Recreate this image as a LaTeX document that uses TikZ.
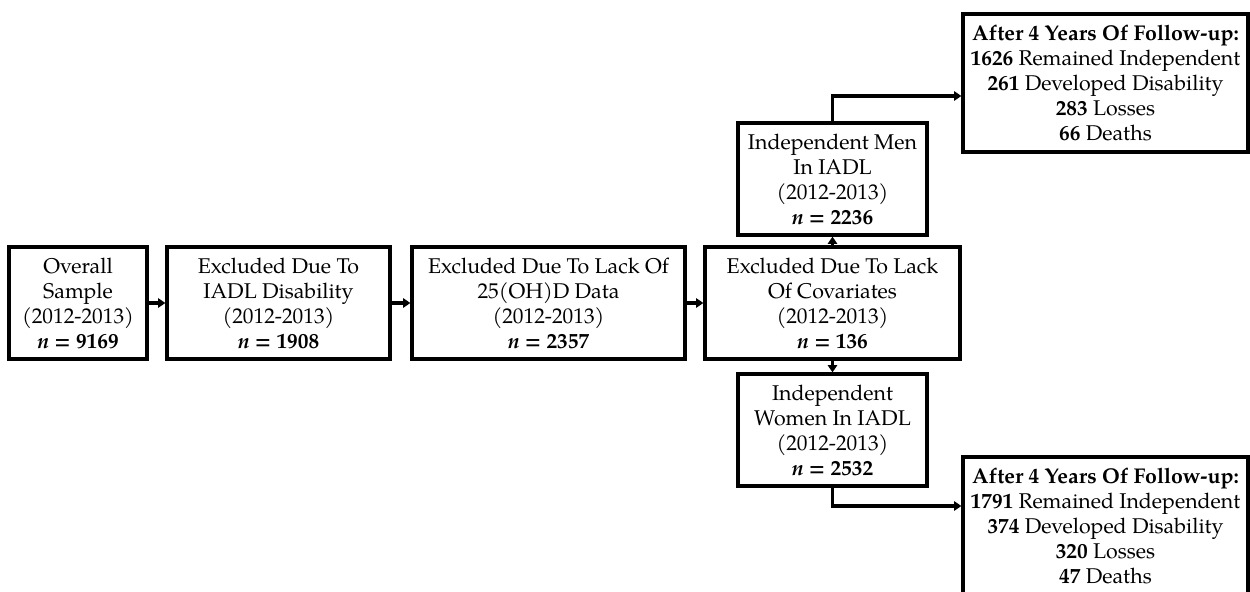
\documentclass[tikz,border=0pt]{standalone}
\usepackage{fontspec}
\setmainfont{TeX Gyre Pagella}
\usetikzlibrary{arrows.meta}
\newcommand{\nn}[1]{\textbf{\textit{n} = #1}}
\begin{document}
\begin{tikzpicture}[x=0.75pt,y=-0.75pt,
  box/.style={draw, line width=2.4pt, align=center, inner sep=0pt,
    font={\fontsize{16}{18.75}\selectfont}, minimum height=84pt},
  arr/.style={line width=2.4pt, -{Triangle[length=5.5pt,width=7pt]}}]
\useasboundingbox (0,0) rectangle (1250,592);
\node[box, minimum width=103.5pt] (A) at (78,303) {Overall\\Sample\\(2012-2013)\\\nn{9169}};
\node[box, minimum width=167.25pt] (B) at (278.5,303) {Excluded Due To\\IADL Disability\\(2012-2013)\\\nn{1908}};
\node[box, minimum width=204.75pt] (C) at (548.5,303) {Excluded Due To Lack Of\\25(OH)D Data\\(2012-2013)\\\nn{2357}};
\node[box, minimum width=191.25pt] (D) at (832.5,303) {Excluded Due To Lack\\Of Covariates\\(2012-2013)\\\nn{136}};
\node[box, minimum width=141.75pt] (M) at (832.5,179) {Independent Men\\In IADL\\(2012-2013)\\\nn{2236}};
\node[box, minimum width=141.75pt] (W) at (832.5,430) {Independent\\Women In IADL\\(2012-2013)\\\nn{2532}};
\node[box, minimum width=213.75pt, minimum height=103.5pt] (TF) at (1105.5,83) {\textbf{After 4 Years Of Follow-up:}\\\textbf{1626} Remained Independent\\\textbf{261} Developed Disability\\\textbf{283} Losses\\\textbf{66} Deaths};
\node[box, minimum width=213.75pt, minimum height=103.5pt] (BF) at (1105.5,526) {\textbf{After 4 Years Of Follow-up:}\\\textbf{1791} Remained Independent\\\textbf{374} Developed Disability\\\textbf{320} Losses\\\textbf{47} Deaths};
\draw[arr] (A) -- (B);
\draw[arr] (B) -- (C);
\draw[arr] (C) -- (D);
\draw[arr] (D) -- (M);
\draw[arr] (D) -- (W);
\coordinate (m1) at (832.5,96);
\coordinate (w1) at (832.5,506);
\draw[arr] (M.north) -- (m1) -- (m1 -| TF.west);
\draw[arr] (W.south) -- (w1) -- (w1 -| BF.west);
\end{tikzpicture}
\end{document}
